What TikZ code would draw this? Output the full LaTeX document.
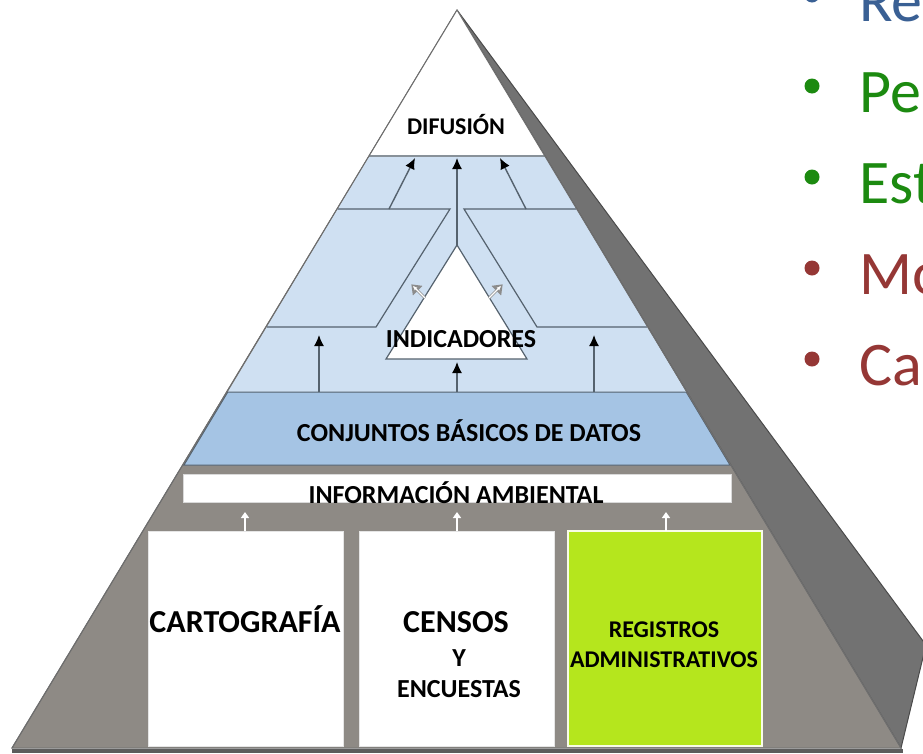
\documentclass[tikz,border=0pt]{standalone}
\usepackage{fontspec}
\setmainfont{Carlito}
\usetikzlibrary{arrows.meta,positioning,calc}
\definecolor{pyblue}{HTML}{CFE0F2}
\definecolor{pybluedeep}{HTML}{A5C4E4}
\definecolor{pygray}{HTML}{8E8A85}
\definecolor{pyside}{HTML}{727272}
\definecolor{pyedge}{HTML}{4A4A4A}
\definecolor{pyline}{HTML}{55626E}
\definecolor{pygreen}{HTML}{B5E61D}
\definecolor{bulblue}{HTML}{3A6094}
\definecolor{bulgreen}{HTML}{1C8A10}
\definecolor{bulred}{HTML}{953735}
\tikzset{
  pylabel/.style={font=\bfseries\fontsize{26}{28}\selectfont, anchor=base, inner sep=0pt, text=black},
  pybig/.style={pylabel, font=\bfseries\fontsize{32}{34}\selectfont},
  pysmall/.style={pylabel, font=\bfseries\fontsize{24}{26}\selectfont},
  pyarrow/.style={-{Latex[length=11pt,width=10pt,color=black]}, line width=1.4pt, draw=pyline},
  pyhollow/.style={-{Triangle[open,length=9pt,width=13pt,fill=white]}, line width=2.6pt, draw=black!45, shorten >=-1pt},
  pywhitearrow/.style={-{Triangle[length=6pt,width=8pt]}, line width=2.4pt, draw=white},
  pyrule/.style={draw=pyline, line width=1.2pt},
  bulitem/.style={font=\fontsize{62}{62}\selectfont, anchor=base west, inner sep=0pt}
}
\begin{document}
\begin{tikzpicture}[x=1pt, y=-1pt]
  \clip (0,0) rectangle (923,753);
  \fill[white] (0,0) rectangle (923,753);
  % pyramid faces
  \coordinate (apex) at (457,10);
  \coordinate (bl) at (12,748);
  \coordinate (br) at (901,748);
  \coordinate (back) at (926,645);
  \filldraw[fill=pyside, draw=pyedge, line width=1pt] (apex) -- (back) -- (br) -- cycle;
  \filldraw[fill=pygray, draw=pyedge!80, line width=1pt] (apex) -- (bl) -- (br) -- cycle;
  % blue levels
  \fill[pyblue] (369.4,156) -- (544.6,156) -- (730,465) -- (184,465) -- cycle;
  \filldraw[fill=pybluedeep, draw=pyline, line width=1pt] (227.8,392) -- (686.2,392) -- (730,465) -- (184,465) -- cycle;
  \fill[white] (apex) -- (544.6,156) -- (369.4,156) -- cycle;
  \draw[pyrule, draw=pyline!70] (369.4,156) -- (544.6,156);
  \draw[pyrule] (337.6,209) -- (450,209) -- (376,327) -- (266.8,327);
  \draw[pyrule] (576.4,209) -- (464,209) -- (537,327) -- (647.2,327);
  \filldraw[fill=white, draw=pyline, line width=1.2pt] (457,245) -- (527,359) -- (386,359) -- cycle;
  \draw[pyedge!80, line width=1pt] (apex) -- (bl) (apex) -- (br);
  \draw[pyedge!90, line width=4pt] (12,750.5) -- (903,750.5);
  % data sources
  \filldraw[fill=white, draw=black!15, line width=1pt] (183,474) rectangle (731,502);
  \filldraw[fill=white, draw=black!10] (148,531) rectangle (343,746);
  \filldraw[fill=white, draw=black!10] (359,531) rectangle (554,746);
  \filldraw[fill=pygreen, draw=white!90!pygreen, line width=2pt] (568,531) rectangle (762,746);
  % arrow anchors
  \coordinate (upL0) at (389,209);   \coordinate (upL1) at (415,158);
  \coordinate (upC0) at (457,245);   \coordinate (upC1) at (457,158);
  \coordinate (upR0) at (526,209);   \coordinate (upR1) at (500,158);
  \coordinate (loL0) at (319,392);   \coordinate (loL1) at (319,335);
  \coordinate (loC0) at (457,392);   \coordinate (loC1) at (457,362);
  \coordinate (loR0) at (594,392);   \coordinate (loR1) at (594,335);
  \coordinate (hoL0) at (425,298);   \coordinate (hoL1) at (412,285);
  \coordinate (hoR0) at (489,298);   \coordinate (hoR1) at (502,285);
  \draw[pyarrow] (upL0) -- (upL1);
  \draw[pyarrow] (upC0) -- (upC1);
  \draw[pyarrow] (upR0) -- (upR1);
  \draw[pyarrow] (loL0) -- (loL1);
  \draw[pyarrow] (loC0) -- (loC1);
  \draw[pyarrow] (loR0) -- (loR1);
  \draw[pyhollow] (hoL0) -- (hoL1);
  \draw[pyhollow] (hoR0) -- (hoR1);
  \draw[white, line width=1.2pt, shorten >=2pt] (hoL0) -- (hoL1);
  \draw[white, line width=1.2pt, shorten >=2pt] (hoR0) -- (hoR1);
  % labels
  \node[pysmall] (difusion) at (456,134) {DIFUSIÓN};
  \node[pylabel] (indic) at (461,347) {INDICADORES};
  \node[pylabel] (cbd) at (469,441) {CONJUNTOS BÁSICOS DE DATOS};
  \node[pylabel] (infoamb) at (456,503) {INFORMACIÓN AMBIENTAL};
  \node[pybig] (carto) at (245,632) {CARTOGRAFÍA};
  \node[pybig] (censos) at (456,632) {CENSOS};
  \node[pylabel] (censy) at (459,666) {Y};
  \node[pylabel] (encuestas) at (459,697) {ENCUESTAS};
  \node[pysmall] (registros) at (664,637) {REGISTROS};
  \node[pysmall] (admin) at (664,667) {ADMINISTRATIVOS};
  \coordinate (cartoTop) at (245,531);
  \coordinate (censosTop) at (457,531);
  \coordinate (registrosTop) at (666,531);
  \draw[pywhitearrow] (cartoTop) -- (245,512);
  \draw[pywhitearrow] (censosTop) -- (457,512);
  \draw[pywhitearrow] (registrosTop) -- (666,512);
  % cut-off list on the right
  \foreach \txt/\col [count=\i] in {Re/bulblue, Pe/bulgreen, Est/bulgreen, Mo/bulred, Ca/bulred}{
    \fill[\col] (812,{91*\i-96}) circle (7.5);
    \node[bulitem, text=\col] (item\i) at (859,{91*\i-70}) {\txt};
  }
\end{tikzpicture}
\end{document}
